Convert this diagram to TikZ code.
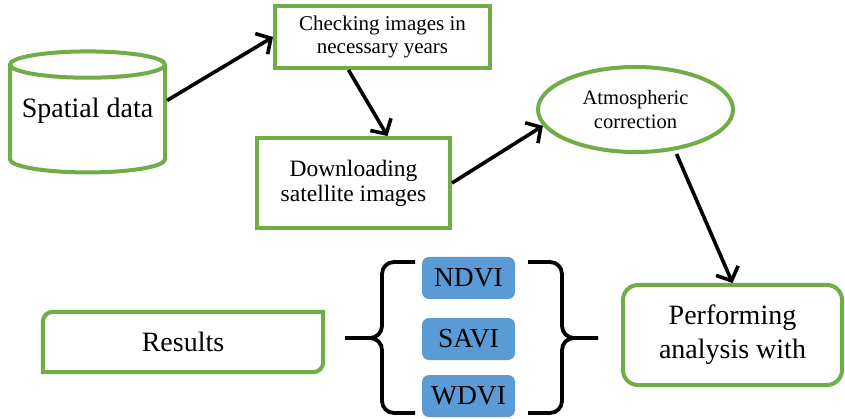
\documentclass[tikz,border=0pt]{standalone}
\usepackage{fontspec}
\setmainfont{Liberation Serif}
\usetikzlibrary{shapes.geometric,arrows.meta}
\definecolor{boxgreen}{RGB}{112,173,71}
\definecolor{boxblue}{RGB}{91,155,213}
\tikzset{
  greenbox/.style={draw=boxgreen, line width=4pt, align=center, inner sep=0pt},
  flow/.style={-{Straight Barb[length=11pt,width=24pt]}, line width=3.6pt, black},
  indexbox/.style={fill=boxblue, rounded corners=7pt, minimum width=93pt, minimum height=42pt, inner sep=0pt, font=\fontsize{27.5}{30}\selectfont},
  brace/.style={line width=3.8pt, rounded corners=12pt}
}
\begin{document}
\begin{tikzpicture}[x=1pt, y=-1pt]
\useasboundingbox (0,0) rectangle (845,419);
% boxes of the work flow
\node[greenbox, cylinder, shape border rotate=90, aspect=0.2, minimum width=155pt, minimum height=121pt, text depth=24pt, font=\fontsize{28}{32}\selectfont] (spatial) at (87.5,119.5) {Spatial data};
\node[greenbox, minimum width=215pt, minimum height=62pt, font=\fontsize{21}{23}\selectfont] (check) at (382.5,37) {Checking images in\\necessary years};
\node[greenbox, minimum width=193pt, minimum height=90pt, font=\fontsize{23.5}{25}\selectfont] (download) at (353.5,183) {Downloading\\satellite images};
\node[greenbox, ellipse, minimum width=195pt, minimum height=85pt, font=\fontsize{20.5}{24}\selectfont] (atmos) at (635.5,109.5) {Atmospheric\\correction};
\node[greenbox, rounded corners=15pt, minimum width=219pt, minimum height=100pt, font=\fontsize{28}{34}\selectfont] (perform) at (732.5,335) {Performing\\analysis with};
\node[minimum width=280pt, minimum height=60pt, inner sep=0pt, font=\fontsize{28}{32}\selectfont] (results) at (183,342) {Results};
\draw[draw=boxgreen, line width=4pt] ([xshift=10pt]results.north west) -- (results.north east) -- ([yshift=10pt]results.south east) arc[start angle=0, end angle=-90, radius=10pt] -- (results.south west) -- ([yshift=-10pt]results.north west) arc[start angle=180, end angle=90, radius=10pt] -- cycle;
% indices
\node[indexbox] (ndvi) at (468.5,278) {NDVI};
\node[indexbox] (savi) at (468.5,339) {SAVI};
\node[indexbox] (wdvi) at (468.5,396) {WDVI};
% braces
\draw[brace] (415,262) -- (382,262) -- (382,338) -- (345,338);
\draw[brace] (415,413) -- (382,413) -- (382,338) -- (345,338);
\draw[brace] (528,262) -- (562,262) -- (562,338) -- (598,338);
\draw[brace] (528,413) -- (562,413) -- (562,338) -- (598,338);
% arrows
\draw[flow] ([yshift=19pt]spatial.east) -- (check.west);
\draw[flow] ([xshift=-34pt]check.south) -- ([xshift=34pt]download.north);
\draw[flow] (download.east) -- (atmos.190);
\draw[flow] ([xshift=41pt]atmos.south) -- (perform.north);
\end{tikzpicture}
\end{document}
